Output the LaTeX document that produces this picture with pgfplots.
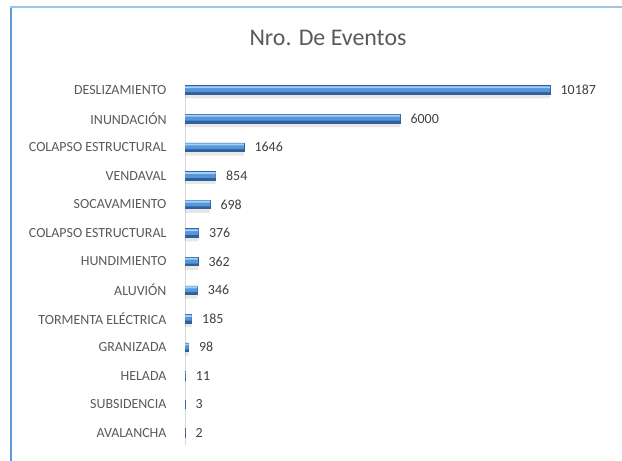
\documentclass[border=0pt]{standalone}
\usepackage{pgfplots}
\pgfplotsset{compat=1.18}
\usepackage{fontspec}
\setmainfont{Carlito}
\definecolor{framebl}{HTML}{5B9BD5}
\definecolor{frametop}{HTML}{9DC3E6}
\definecolor{barlight}{HTML}{A6CFF5}
\definecolor{barmid}{HTML}{5697DC}
\definecolor{bardark}{HTML}{2F609A}
\definecolor{txt}{HTML}{595959}
\definecolor{vtxt}{HTML}{404040}
\pgfplotstableread{
idx val
12 10187
11 6000
10 1646
9 854
8 698
7 376
6 362
5 346
4 185
3 98
2 11
1 3
0 2
}\datatab
\begin{document}
\begin{tikzpicture}
\path[use as bounding box] (0,0) rectangle (622bp,461bp);
\draw[framebl, line width=1.5bp] (11bp,0) -- (11bp,454bp);
\draw[frametop, line width=2bp] (10.25bp,454bp) -- (622bp,454bp);
\node[font=\fontsize{24}{28}\selectfont, text=txt, anchor=base] at (328bp,415bp) {Nro. De Eventos};
\begin{axis}[
  at={(185bp,16bp)}, anchor=south west,
  scale only axis, width=430bp, height=357.9bp,
  xmin=0, xmax=12000, ymin=-0.42, ymax=12.1,
  axis x line=none, axis y line*=left,
  y axis line style={draw=black!15, line width=0.6bp},
  major tick length=0pt,
  ytick={0,...,12},
  yticklabels={AVALANCHA,SUBSIDENCIA,HELADA,GRANIZADA,TORMENTA ELÉCTRICA,ALUVIÓN,HUNDIMIENTO,COLAPSO ESTRUCTURAL,SOCAVAMIENTO,VENDAVAL,COLAPSO ESTRUCTURAL,INUNDACIÓN,DESLIZAMIENTO},
  yticklabel style={font=\fontsize{14}{16}\selectfont, text=txt, xshift=-15bp},
  /pgf/number format/1000 sep={},
  /pgf/number format/assume math mode=true,
  clip=false,
  xbar,
]
% shadow
\addplot[xbar, draw=none, fill=black, fill opacity=0.09, bar width=7bp, bar shift=-5bp]
  table[x=val, y=idx] {\datatab};
% dark base
\addplot[xbar, draw=bardark, line width=0.5bp, fill=bardark, bar width=8.5bp, bar shift=0bp,
  nodes near coords,
  nodes near coords style={font=\fontsize{14}{16}\selectfont, text=vtxt, anchor=west, xshift=7bp}]
  table[x=val, y=idx] {\datatab};
% mid body
\addplot[xbar, draw=none, fill=barmid, bar width=6bp, bar shift=0.9bp]
  table[x=val, y=idx] {\datatab};
% highlight
\addplot[xbar, draw=none, fill=barlight, bar width=1.8bp, bar shift=2.7bp]
  table[x=val, y=idx] {\datatab};
\end{axis}
\end{tikzpicture}
\end{document}
